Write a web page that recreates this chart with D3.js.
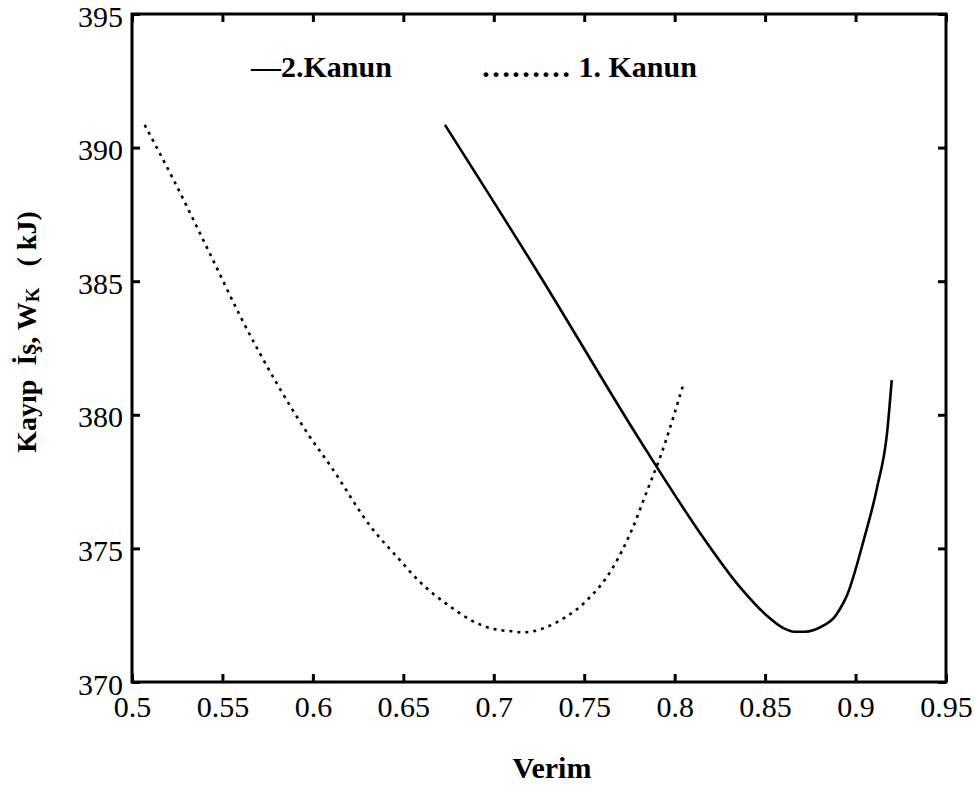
<!DOCTYPE html>
<html>
<head>
<meta charset="utf-8">
<script src="https://cdn.jsdelivr.net/npm/d3@7"></script>
<style>
  html, body { margin: 0; padding: 0; background: #fff; }
  svg { display: block; }
</style>
</head>
<body>
<svg id="chart" width="979" height="789"></svg>
<script>
// Lost work versus efficiency: second-law and first-law curves
const firstLawEff = [0.507, 0.523, 0.543, 0.560, 0.580, 0.597, 0.610, 0.632, 0.648, 0.658,
                     0.676, 0.690, 0.700, 0.710, 0.716, 0.722, 0.730, 0.740, 0.750, 0.766, 0.777,
                     0.785, 0.792, 0.805];
const firstLawWork = [390.85, 388.79, 386.04, 383.67, 381.18, 379.31, 378.06, 375.81, 374.57, 373.82,
                      372.82, 372.22, 371.98, 371.90, 371.86, 371.90, 372.08, 372.44, 372.96, 374.30, 375.80,
                      377.20, 378.42, 381.19];

const secondLawEff = [0.673, 0.726, 0.780, 0.790, 0.814, 0.836, 0.851, 0.860,
                      0.866, 0.872, 0.877, 0.8824, 0.888, 0.8916, 0.8953, 0.9045, 0.912, 0.9174, 0.920];
const secondLawWork = [390.85, 385.15, 379.13, 378.06, 375.58, 373.56, 372.48, 372.02,
                       371.88, 371.88, 371.95, 372.12, 372.40, 372.76, 373.25, 375.31, 377.31, 379.31, 381.30];

const xTicks = [0.5, 0.55, 0.6, 0.65, 0.7, 0.75, 0.8, 0.85, 0.9, 0.95];
const xTickLabels = ["0.5", "0.55", "0.6", "0.65", "0.7", "0.75", "0.8", "0.85", "0.9", "0.95"];
const yTicks = [370, 375, 380, 385, 390, 395];
const yTickLabels = ["370", "375", "380", "385", "390", "395"];

const legendLabels = ["\u20142.Kanun", "\u2026\u2026\u2026 1. Kanun"];
const xTitle = "Verim";

const FONT = "Liberation Serif";

const svg = d3.select("#chart");
const plotLeft = 132, plotRight = 946, plotTop = 14, plotBottom = 682;

const x = d3.scaleLinear().domain([0.5, 0.95]).range([plotLeft, plotRight]);
const y = d3.scaleLinear().domain([370, 395]).range([plotBottom, plotTop]);

const tickLen = 8;

// Axis frame with inward ticks on all four sides
function styleAxis(g) {
  g.attr("font-family", FONT);
  g.select(".domain").remove();
  g.selectAll(".tick line").attr("stroke", "#000").attr("stroke-width", 3);
  g.selectAll(".tick text").attr("font-family", FONT);
}

svg.append("g")
  .attr("transform", `translate(0,${plotBottom})`)
  .call(d3.axisBottom(x).tickValues(xTicks).tickSizeInner(-tickLen).tickSizeOuter(0)
        .tickFormat((d, i) => xTickLabels[i]))
  .call(styleAxis)
  .call(g => g.selectAll(".tick text")
    .attr("y", 35).attr("dy", null)
    .attr("font-size", 30).attr("fill", "#000"));

svg.append("g")
  .attr("transform", `translate(0,${plotTop})`)
  .call(d3.axisTop(x).tickValues(xTicks).tickSizeInner(-tickLen).tickSizeOuter(0).tickFormat(""))
  .call(styleAxis);

svg.append("g")
  .attr("transform", `translate(${plotLeft},0)`)
  .call(d3.axisLeft(y).tickValues(yTicks).tickSizeInner(-tickLen).tickSizeOuter(0)
        .tickFormat((d, i) => yTickLabels[i]))
  .call(styleAxis)
  .call(g => g.selectAll(".tick text")
    .attr("x", -9).attr("dy", 12)
    .attr("text-anchor", "end")
    .attr("font-size", 30).attr("fill", "#000"));

svg.append("g")
  .attr("transform", `translate(${plotRight},0)`)
  .call(d3.axisRight(y).tickValues(yTicks).tickSizeInner(-tickLen).tickSizeOuter(0).tickFormat(""))
  .call(styleAxis);

svg.append("rect")
  .attr("x", plotLeft).attr("y", plotTop)
  .attr("width", plotRight - plotLeft).attr("height", plotBottom - plotTop)
  .attr("fill", "none").attr("stroke", "#000").attr("stroke-width", 3);

// Curves
const line = d3.line()
  .x(d => x(d[0]))
  .y(d => y(d[1]))
  .curve(d3.curveMonotoneX);

const firstLaw = firstLawEff.map((e, i) => [e, firstLawWork[i]]);
const secondLaw = secondLawEff.map((e, i) => [e, secondLawWork[i]]);

svg.append("path")
  .datum(firstLaw)
  .attr("d", line)
  .attr("fill", "none")
  .attr("stroke", "#000")
  .attr("stroke-width", 2.6)
  .attr("stroke-dasharray", "3,5");

svg.append("path")
  .datum(secondLaw)
  .attr("d", line)
  .attr("fill", "none")
  .attr("stroke", "#000")
  .attr("stroke-width", 2.6)
  .attr("stroke-linejoin", "round");

// Legend text
svg.append("text")
  .attr("x", 251).attr("y", 77)
  .attr("font-family", FONT)
  .attr("font-size", 30).attr("font-weight", "bold")
  .text(legendLabels[0]);

svg.append("text")
  .attr("x", 481).attr("y", 77)
  .attr("font-family", FONT)
  .attr("font-size", 30).attr("font-weight", "bold")
  .text(legendLabels[1]);

// Axis titles
svg.append("text")
  .attr("x", 552).attr("y", 778)
  .attr("text-anchor", "middle")
  .attr("font-family", FONT)
  .attr("font-size", 30).attr("font-weight", "bold")
  .text(xTitle);

const yTitle = svg.append("text")
  .attr("transform", "translate(36,332) rotate(-90)")
  .attr("text-anchor", "middle")
  .attr("font-family", FONT)
  .attr("font-size", 28).attr("font-weight", "bold")
  .attr("xml:space", "preserve");
yTitle.append("tspan").text("Kayıp  İş, W");
yTitle.append("tspan").attr("font-size", 19).attr("dy", 3).text("K");
yTitle.append("tspan").attr("dy", -3).text("   ( kJ)");
</script>
</body>
</html>
